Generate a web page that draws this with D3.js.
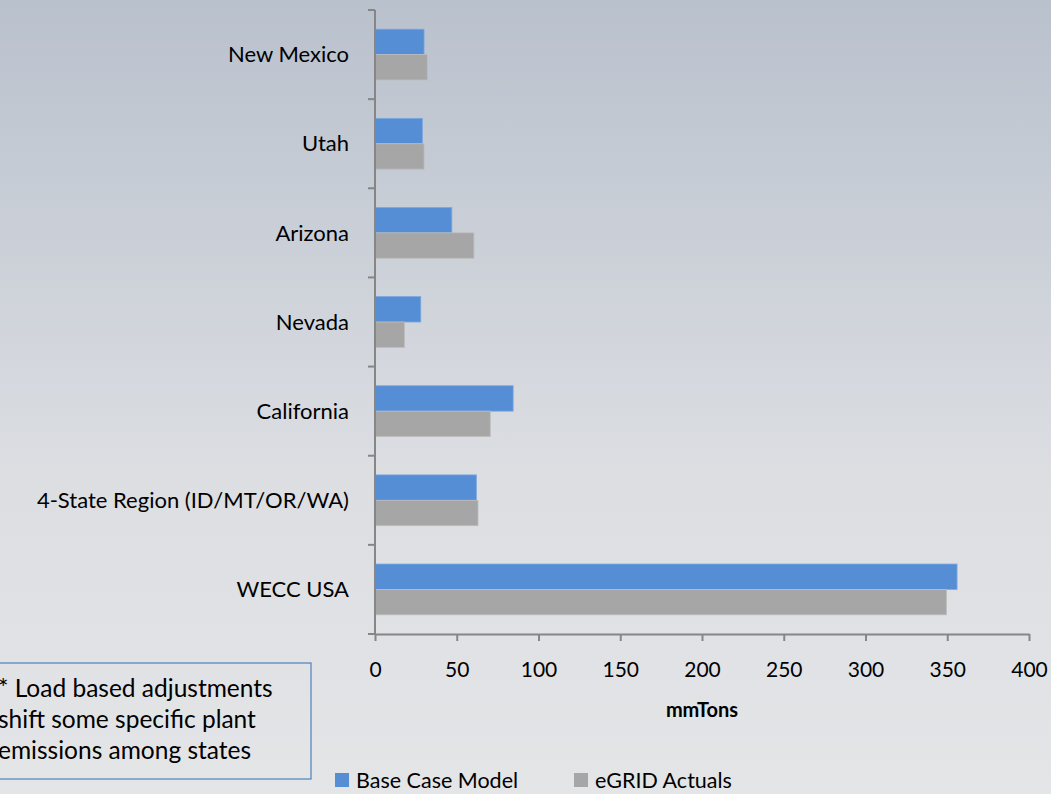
<!DOCTYPE html>
<html lang="en">
<head>
  <meta charset="UTF-8">
  <title>Emissions by State</title>
  <script src="https://cdn.jsdelivr.net/npm/d3@7"></script>
  <style>
    html, body { margin: 0; padding: 0; overflow: hidden; }
    body { width: 1051px; height: 794px; font-family: Lato, "Open Sans", sans-serif; }
    svg { display: block; }
  </style>
</head>
<body>
  <div id="chart"></div>

  <script>
    // Categories listed bottom to top as in the picture
    const categories = ['WECC USA', '4-State Region (ID/MT/OR/WA)', 'California', 'Nevada', 'Arizona', 'Utah', 'New Mexico'];
    const baseCase = [356, 62, 84.5, 28, 47, 29, 30];
    const egrid = [349.5, 63, 70.5, 18, 60.5, 30, 32];
    const seriesNames = ['Base Case Model', 'eGRID Actuals'];
    const xTicks = [0, 50, 100, 150, 200, 250, 300, 350, 400];
    const noteLines = ['* Load based adjustments', 'shift some specific plant', 'emissions among states'];

    const width = 1051, height = 794;
    const colors = ['#558ed5', '#a6a6a6'];
    const plot = { left: 375, right: 1029, top: 10, bottom: 634 };
    const font = 'Lato, "Open Sans", sans-serif';

    const svg = d3.select('#chart').append('svg')
      .attr('width', width)
      .attr('height', height)
      .attr('font-family', font);

    // Background gradient
    const grad = svg.append('defs').append('linearGradient')
      .attr('id', 'bg').attr('x1', 0).attr('y1', 0).attr('x2', 0).attr('y2', 1);
    grad.append('stop').attr('offset', '0%').attr('stop-color', '#b9c1cd');
    grad.append('stop').attr('offset', '60%').attr('stop-color', '#dcdee2');
    grad.append('stop').attr('offset', '100%').attr('stop-color', '#e4e5e7');
    svg.append('rect').attr('width', width).attr('height', height).attr('fill', 'url(#bg)');

    const x = d3.scaleLinear().domain([0, 400]).range([plot.left, plot.right]);

    // bottom-to-top category order
    const y = d3.scaleBand().domain(categories).range([plot.bottom, plot.top]).paddingInner(0.43).paddingOuter(0.215);
    const sub = d3.scaleBand().domain(seriesNames).range([0, y.bandwidth()]);

    const rows = categories.map((c, i) => ({ cat: c, values: [baseCase[i], egrid[i]] }));

    const groups = svg.selectAll('.row')
      .data(rows)
      .join('g')
      .attr('class', 'row')
      .attr('transform', d => `translate(0,${y(d.cat)})`);

    groups.selectAll('rect')
      .data(d => d.values.map((v, j) => ({ name: seriesNames[j], v, j })))
      .join('rect')
      .attr('x', x(0))
      .attr('y', d => sub(d.name))
      .attr('width', d => x(d.v) - x(0))
      .attr('height', sub.bandwidth())
      .attr('fill', d => colors[d.j])
      .attr('stroke', d => d.j === 0 ? '#7ea9e0' : '#bdbdbd')
      .attr('stroke-width', 0.8);

    // Y axis with ticks between categories
    const axisColor = '#868686';
    const step = (plot.bottom - plot.top) / categories.length;
    svg.append('line')
      .attr('x1', x(0)).attr('x2', x(0))
      .attr('y1', plot.top).attr('y2', plot.bottom)
      .attr('stroke', axisColor).attr('stroke-width', 2);
    svg.selectAll('.ytick')
      .data(d3.range(categories.length + 1))
      .join('line')
      .attr('class', 'ytick')
      .attr('x1', x(0) - 7).attr('x2', x(0))
      .attr('y1', i => plot.top + i * step).attr('y2', i => plot.top + i * step)
      .attr('stroke', axisColor).attr('stroke-width', 2);

    // Category labels
    svg.selectAll('.ylabel')
      .data(categories)
      .join('text')
      .attr('class', 'ylabel')
      .attr('x', 349)
      .attr('y', d => y(d) + y.bandwidth() / 2)
      .attr('dy', '0.35em')
      .attr('text-anchor', 'end')
      .attr('font-size', 22)
      .attr('fill', '#000')
      .text(d => d);

    // X axis
    const xAxis = svg.append('g')
      .attr('transform', `translate(0,${plot.bottom})`)
      .call(d3.axisBottom(x).tickValues(xTicks).tickSize(7).tickPadding(21).tickSizeOuter(0));
    xAxis.select('.domain').attr('stroke', axisColor).attr('stroke-width', 2);
    xAxis.selectAll('.tick line').attr('stroke', axisColor).attr('stroke-width', 2);
    xAxis.selectAll('.tick text')
      .attr('font-family', font)
      .attr('font-size', 21)
      .attr('fill', '#000');

    svg.append('text')
      .attr('x', (plot.left + plot.right) / 2)
      .attr('y', 717)
      .attr('text-anchor', 'middle')
      .attr('font-size', 20)
      .attr('font-weight', 'bold')
      .text('mmTons');

    // Legend
    const legendX = [335, 574];
    const legend = svg.selectAll('.legend')
      .data(seriesNames)
      .join('g')
      .attr('class', 'legend')
      .attr('transform', (d, i) => `translate(${legendX[i]},773)`);
    legend.append('rect')
      .attr('width', 14).attr('height', 14)
      .attr('fill', (d, i) => colors[i]);
    legend.append('text')
      .attr('x', 21).attr('y', 15)
      .attr('font-size', 21.5)
      .text(d => d);

    // Note box (runs off the left edge)
    svg.append('rect')
      .attr('x', -20).attr('y', 663)
      .attr('width', 331).attr('height', 116)
      .attr('fill', 'none')
      .attr('stroke', '#4f81bd').attr('stroke-width', 1.2);
    svg.selectAll('.note')
      .data(noteLines)
      .join('text')
      .attr('class', 'note')
      .attr('x', -2)
      .attr('y', (d, i) => 697 + i * 31)
      .attr('font-size', 24.5)
      .text(d => d);
  </script>
</body>
</html>
